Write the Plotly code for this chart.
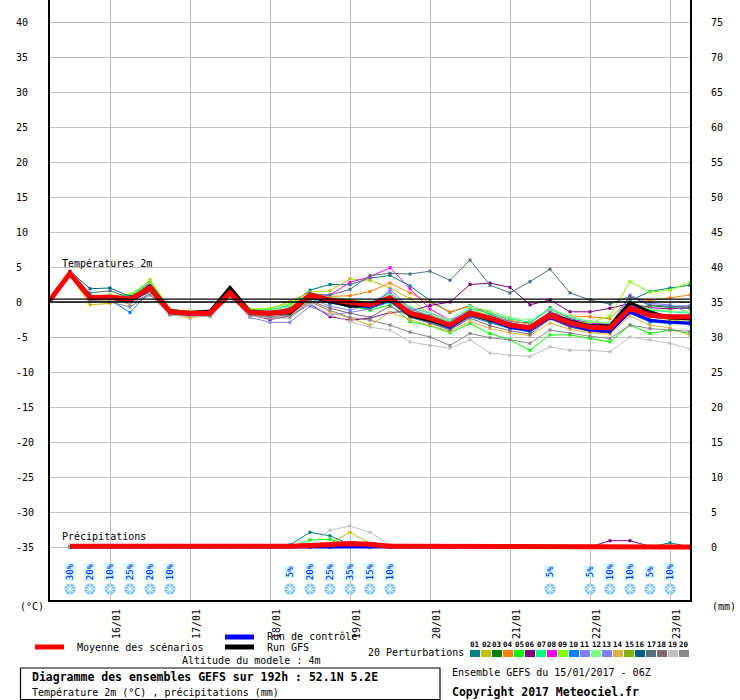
import plotly.graph_objects as go
import pandas as pd

# ---------------- DATA ----------------
TIMES = pd.date_range('2017-01-15 06:00', periods=33, freq='6h')

MEAN_T = [0.3, 4.1, 0.6, 0.7, 0.4, 2.0, -1.4, -1.6, -1.6, 1.3, -1.5, -1.6, -1.3, 1.0, 0.3, 0.0, -0.4,
          0.6, -1.6, -2.3, -3.3, -1.6, -2.3, -3.3, -3.7, -1.9, -3.0, -3.6, -3.7, -0.9, -1.9, -2.1, -2.1]
GFS_T = [0.2, 4.0, 0.8, 0.5, 0.3, 2.3, -1.2, -1.5, -1.3, 2.1, -1.3, -1.5, -1.6, 0.8, 0.1, -0.6, -0.5,
         0.4, -1.9, -2.6, -3.4, -1.7, -2.5, -3.4, -3.8, -1.7, -2.7, -3.4, -3.4, -0.1, -1.4, -2.3, -2.4]
CTRL_T = [0.2, 4.0, 0.5, 0.8, 0.2, 1.8, -1.5, -1.7, -1.7, 1.1, -1.6, -1.7, -1.4, 0.8, 0.0, -0.3, -0.6,
          0.3, -1.8, -2.5, -3.6, -1.8, -2.5, -3.6, -4.0, -2.2, -3.3, -4.0, -4.2, -1.4, -2.6, -2.9, -3.0]

P01 = [0.5, 4.3, 1.0, 0.6, 0.7, 2.6, -1.3, -1.5, -1.6, 1.2, -1.5, -1.3, -0.4, 1.7, 2.5, 2.5, 3.4,
       3.8, 2.3, 0.2, -1.5, -0.5, -1.8, -2.8, -3.0, -0.8, -2.4, -3.0, -3.2, 0.2, 1.5, 2.0, 2.4]
P02 = [0.1, 3.9, -0.4, -0.2, 0.5, 3.2, -1.0, -1.8, -1.4, 1.6, -1.1, -1.0, 0.1, 1.4, 1.6, 3.3, 3.1,
       2.0, 0.5, -1.8, -3.0, -1.0, -2.0, -3.2, -3.5, -1.5, -2.8, -3.3, -3.1, -0.5, -1.6, -2.5, -3.0]
P03 = [0.3, 4.0, 0.4, 0.6, 0.2, 1.8, -1.6, -1.9, -1.8, 1.4, -1.8, -1.7, -1.2, 0.6, -0.2, -0.5, -1.0,
       0.2, -2.0, -2.8, -3.8, -2.0, -2.8, -3.6, -4.2, -2.3, -3.4, -4.0, -4.2, -1.0, -0.5, -0.8, -0.9]
P04 = [0.2, 4.1, 0.5, 0.8, 0.6, 2.2, -1.5, -2.2, -1.6, 1.0, -1.4, -1.6, -0.8, 1.2, 0.8, 0.9, 1.5,
       2.7, 1.3, 0.0, -1.4, -0.6, -1.5, -2.6, -3.2, -1.5, -2.0, -2.1, -2.4, 0.6, 0.2, 0.6, 1.0]
P05 = [0.2, 4.0, 0.3, 0.4, 0.1, 1.6, -1.8, -1.7, -1.9, 1.0, -1.9, -1.4, -1.0, 0.9, 0.2, -0.6, -1.2,
       -0.4, -2.8, -3.4, -4.4, -3.1, -4.5, -5.4, -6.9, -4.7, -4.7, -5.2, -5.7, -3.3, -4.5, -4.0, -4.5]
P06 = [0.4, 4.2, 0.8, 0.2, 0.0, 1.5, -1.8, -1.6, -1.9, 0.6, -1.8, -2.5, -2.0, -0.3, -2.1, -2.6, -2.3,
       -1.5, -1.3, -0.5, 0.0, 2.5, 2.7, 2.1, -0.4, 0.3, -1.4, -1.4, -0.9, -0.2, -0.8, -1.0, -0.8]
P07 = [0.3, 4.1, 0.7, 0.9, 0.9, 2.8, -1.2, -1.4, -1.4, 1.8, -1.2, -1.1, -0.5, 1.3, 0.6, 0.3, 0.0,
       1.2, -1.0, -1.9, -2.8, -0.9, -1.6, -2.4, -2.9, -1.1, -2.2, -2.8, -3.0, 0.0, -1.2, -1.4, -1.6]
P08 = [0.4, 4.0, 0.6, 0.7, 0.5, 2.7, -1.4, -1.6, -1.5, 1.4, -1.4, -1.5, -0.9, 0.6, 1.0, 2.8, 3.6,
       4.9, 1.9, -1.0, -2.6, -1.5, -2.0, -3.0, -3.4, -1.4, -2.5, -3.0, -3.3, -0.4, -1.7, -2.2, -2.4]
P09 = [0.2, 3.9, 0.5, 0.9, 1.1, 3.0, -1.1, -1.3, -1.5, 1.7, -1.0, -0.9, -0.2, 1.1, 0.7, 0.2, -0.6,
       0.3, -1.3, -2.0, -3.0, -1.2, -2.0, -3.1, -3.6, -1.7, -2.7, -3.0, -2.0, 2.9, 1.4, 1.7, 2.8]
P10 = [0.3, 4.0, 0.4, 0.3, -1.5, 1.5, -1.6, -1.8, -1.9, 0.9, -1.7, -1.8, -1.5, 0.7, -0.1, -0.7, -0.9,
       0.0, -2.2, -3.0, -3.9, -2.1, -3.0, -3.8, -4.3, -2.3, -3.5, -4.1, -4.4, -1.6, -2.9, -3.1, -3.2]
P11 = [0.2, 3.9, 0.3, 0.4, 0.3, 1.7, -1.7, -2.0, -2.0, 0.8, -2.2, -2.9, -2.9, -0.6, -1.8, -1.5, -1.0,
       1.8, -0.8, -1.6, -2.6, -1.2, -2.1, -3.0, -3.6, -1.6, -2.8, -3.2, -3.3, 1.0, -0.2, -0.4, -1.6]
P12 = [0.4, 4.2, 0.9, 1.0, 0.8, 2.5, -1.2, -1.3, -1.3, 1.5, -1.2, -1.2, -0.6, 1.2, 0.7, 0.4, -0.1,
       1.0, -0.7, -1.5, -2.5, -0.6, -1.3, -2.2, -2.6, -1.0, -2.0, -2.8, -3.0, -0.1, -1.0, -1.3, -1.4]
P13 = [0.3, 4.1, 0.6, 0.8, 0.3, 1.9, -1.4, -1.7, -1.6, 1.2, -1.6, -1.9, -1.6, 0.5, -0.6, -1.2, -0.3,
       1.4, -1.0, -2.0, -3.1, -1.4, -2.3, -3.3, -3.9, -1.8, -3.1, -3.5, -3.7, 0.8, -0.4, -0.6, -0.5]
P14 = [0.1, 3.9, 0.2, 0.3, 0.2, 1.7, -1.7, -2.3, -1.8, 1.1, -1.7, -2.0, -1.9, 0.3, -1.5, -2.3, -3.3,
       -1.5, -2.5, -3.3, -4.2, -2.8, -3.8, -4.4, -4.8, -3.0, -3.9, -4.4, -4.6, -2.0, -3.3, -3.7, -4.8]
P15 = [0.2, 4.0, 0.7, 0.6, 0.4, 2.1, -1.5, -1.6, -1.7, 1.3, -1.5, -1.6, -1.2, 1.0, 0.3, -0.2, -0.7,
       0.5, -1.8, -2.6, -3.5, -1.9, -2.6, -3.6, -4.0, -2.1, -3.2, -3.8, -3.9, -1.2, -2.2, -2.5, -2.6]
P16 = [0.5, 4.4, 1.9, 2.0, 0.8, 1.8, -1.3, -1.7, -1.6, 1.0, -1.6, -1.7, -1.4, 0.8, 0.0, -0.4, -0.8,
       0.4, -2.0, -2.7, -3.7, -1.8, -2.8, -3.7, -4.1, -2.0, -3.3, -3.9, -4.0, -0.6, -1.8, -2.0, -2.2]
P17 = [0.4, 4.2, 1.3, 1.6, 0.6, 1.4, -1.2, -1.5, -1.4, 1.5, -1.5, -1.4, -0.9, 1.2, 1.0, 1.8, 3.8,
       4.1, 4.0, 4.4, 3.1, 6.0, 2.4, 1.3, 2.9, 4.7, 1.3, 0.3, -0.3, 0.8, -0.5, -0.6, -0.7]
P18 = [0.3, 4.0, 0.2, 0.5, -0.3, 1.2, -1.6, -1.8, -1.9, 0.7, -1.9, -2.1, -1.8, 0.2, -0.9, -1.6, -2.2,
       -0.6, -2.1, -3.0, -4.0, -2.3, -3.4, -4.1, -4.6, -2.4, -3.6, -4.2, -4.4, -1.5, -2.6, -2.8, -3.0]
P19 = [0.2, 3.9, 0.1, 0.2, -0.2, 1.3, -1.9, -2.0, -2.1, 0.6, -2.0, -2.3, -2.3, -0.2, -1.8, -2.8, -3.6,
       -4.0, -5.7, -6.2, -6.6, -5.4, -7.3, -7.6, -7.8, -6.4, -6.9, -6.9, -7.1, -5.0, -5.4, -5.9, -6.7]
P20 = [0.3, 4.0, 0.3, 0.0, -0.7, 1.0, -1.8, -1.9, -2.0, 0.9, -1.9, -2.2, -2.1, 0.0, -1.2, -2.2, -2.6,
       -3.3, -4.3, -5.0, -6.2, -4.5, -5.1, -5.4, -5.9, -4.0, -4.5, -4.9, -5.2, -3.3, -3.8, -4.0, -4.2]
MEMBERS_T = [P01, P02, P03, P04, P05, P06, P07, P08, P09, P10,
             P11, P12, P13, P14, P15, P16, P17, P18, P19, P20]

COLORS = ['#008080', '#c0c000', '#008000', '#ff8000', '#00ff00', '#800080', '#00ff80', '#ff00ff',
          '#80ff00', '#0080ff', '#8080ff', '#80ff80', '#8080ff', '#e0b040', '#80b000', '#006080',
          '#507080', '#806870', '#c0c0c0', '#888888']
MEMBER_LABELS = ['01', '02', '03', '04', '05', '06', '07', '08', '09', '10',
                 '11', '12', '13', '14', '15', '16', '17', '18', '19', '20']

# precipitation (mm per 6h), first step has no value
N = None
MEAN_P = [N, 0.1, 0.1, 0.1, 0.1, 0.1, 0.1, 0, 0, 0, 0, 0, 0.1, 0.2, 0.4, 0.5, 0.4,
          0.1, 0.1, 0.1, 0.1, 0, 0.1, 0.1, 0.1, 0.1, 0.1, 0.1, 0.1, 0.1, 0.1, 0.1, 0]
CTRL_P = [N, 0, 0, 0, 0, 0, 0, 0, 0, 0, 0, 0, 0, 0, 0, 0, 0,
          0, 0, 0, 0, 0, 0, 0, 0, 0, 0, 0, 0, 0, 0, 0, 0]
PR01 = [N, 0, 0, 0, 0, 0, 0, 0, 0, 0, 0, 0, 0.3, 2.1, 1.6, 0.4, 0, 0, 0, 0, 0, 0, 0, 0, 0, 0, 0, 0, 0, 0, 0, 0.6, 0]
PR02 = [N, 0, 0, 0, 0, 0, 0, 0, 0, 0, 0, 0, 0, 0, 0.5, 2.1, 0.5, 0, 0, 0, 0, 0, 0, 0, 0, 0, 0, 0, 0, 0, 0, 0, 0]
PR03 = [N, 0, 0, 0, 0, 0, 0, 0, 0, 0, 0, 0, 0, 0, 0.2, 0.2, 0, 0, 0, 0, 0, 0, 0, 0, 0, 0, 0, 0, 0, 0, 0, 0, 0]
PR04 = [N, 0, 0, 0, 0, 0, 0, 0, 0, 0, 0, 0, 0, 0, 0, 0.1, 0, 0, 0, 0, 0, 0, 0, 0, 0, 0, 0, 0, 0, 0, 0, 0, 0]
PR05 = [N, 0, 0, 0, 0, 0, 0, 0, 0, 0, 0, 0, 0, 1.0, 1.1, 0.3, 0, 0, 0, 0, 0, 0, 0, 0, 0, 0, 0, 0, 0, 0, 0, 0, 0]
PR06 = [N, 0, 0, 0, 0, 0, 0, 0, 0, 0, 0, 0, 0, 0, 0, 0.2, 0.4, 0, 0, 0, 0, 0, 0.2, 0, 0, 0, 0, 0, 0.9, 0.9, 0.1, 0, 0]
PR07 = [N, 0, 0, 0, 0, 0, 0, 0, 0, 0, 0, 0, 0, 0, 0.3, 0.2, 0, 0, 0, 0, 0, 0, 0, 0, 0, 0, 0, 0, 0, 0, 0, 0, 0]
PR08 = [N, 0, 0, 0, 0, 0, 0, 0, 0, 0, 0, 0, 0, 0, 0, 0.5, 0.4, 0, 0, 0, 0, 0, 0, 0, 0, 0, 0, 0, 0, 0, 0, 0, 0]
PR09 = [N, 0, 0, 0, 0, 0, 0, 0, 0, 0, 0, 0, 0, 0, 0, 0, 0, 0, 0, 0, 0, 0, 0, 0, 0, 0, 0, 0, 0, 0, 0, 0, 0]
PR10 = [N, 0, 0, 0, 0, 0, 0, 0, 0, 0, 0, 0, 0, 0, 0, 0.2, 0.3, 0, 0, 0, 0, 0, 0, 0, 0, 0, 0, 0, 0, 0, 0, 0, 0]
PR11 = [N, 0, 0, 0, 0, 0, 0, 0, 0, 0, 0, 0, 0, 0, 0, 0.3, 0.2, 0, 0, 0, 0, 0, 0, 0, 0, 0, 0, 0, 0, 0, 0, 0, 0]
PR12 = [N, 0, 0, 0, 0, 0, 0, 0, 0, 0, 0, 0, 0, 0, 0.2, 0, 0, 0, 0, 0, 0, 0, 0, 0, 0, 0, 0, 0, 0, 0, 0, 0, 0]
PR13 = [N, 0, 0, 0, 0, 0, 0, 0, 0, 0, 0, 0, 0, 0, 0, 0.3, 0.1, 0, 0, 0, 0, 0, 0, 0, 0, 0, 0, 0, 0, 0, 0, 0, 0]
PR14 = [N, 0, 0, 0, 0, 0, 0, 0, 0, 0, 0, 0, 0, 0, 0, 0.1, 0, 0, 0, 0, 0, 0, 0, 0, 0, 0, 0, 0, 0, 0, 0, 0, 0]
PR15 = [N, 0, 0, 0, 0, 0, 0, 0, 0, 0, 0, 0, 0, 0, 0, 0.2, 0, 0, 0, 0, 0, 0, 0, 0, 0, 0, 0, 0, 0, 0, 0, 0, 0]
PR16 = [N, 0, 0, 0, 0, 0, 0, 0, 0, 0, 0, 0, 0, 0, 0, 0.4, 0.2, 0, 0, 0, 0, 0, 0, 0, 0, 0, 0, 0, 0, 0, 0, 0, 0]
PR17 = [N, 0, 0, 0, 0, 0, 0, 0, 0, 0, 0, 0, 0, 0, 0.3, 0.3, 0, 0, 0, 0, 0, 0, 0, 0, 0, 0, 0, 0, 0, 0, 0, 0, 0]
PR18 = [N, 0, 0, 0, 0, 0, 0, 0, 0, 0, 0, 0, 0, 0, 0, 0.2, 0, 0, 0, 0, 0, 0, 0, 0, 0, 0, 0, 0, 0, 0, 0, 0, 0]
PR19 = [N, 0, 0, 0, 0, 0, 0, 0, 0, 0, 0, 0, 0, 0.3, 2.4, 3.0, 2.1, 0.3, 0, 0, 0, 0, 0, 0, 0, 0, 0, 0, 0, 0, 0, 0, 0]
PR20 = [N, 0, 0, 0, 0, 0, 0, 0, 0, 0, 0, 0, 0, 0, 0.4, 0.6, 0.4, 0, 0, 0, 0, 0, 0, 0, 0, 0, 0, 0, 0, 0, 0, 0, 0]
MEMBERS_P = [PR01, PR02, PR03, PR04, PR05, PR06, PR07, PR08, PR09, PR10,
             PR11, PR12, PR13, PR14, PR15, PR16, PR17, PR18, PR19, PR20]

SNOW_TIMES = ['2017-01-15 12:00', '2017-01-15 18:00', '2017-01-16 00:00', '2017-01-16 06:00',
              '2017-01-16 12:00', '2017-01-16 18:00', '2017-01-18 06:00', '2017-01-18 12:00',
              '2017-01-18 18:00', '2017-01-19 00:00', '2017-01-19 06:00', '2017-01-19 12:00',
              '2017-01-21 12:00', '2017-01-22 00:00', '2017-01-22 06:00', '2017-01-22 12:00',
              '2017-01-22 18:00', '2017-01-23 00:00']
SNOW_PCT = [30, 20, 10, 25, 20, 10, 5, 20, 25, 35, 15, 10, 5, 5, 10, 10, 5, 10]

T_TICKS = list(range(-35, 45, 5))
R_TICKS = list(range(0, 80, 5))

# ---------------- LAYOUT HELPERS ----------------
W, H = 740, 700
ML, MR, MT, MB = 50, 50, 0, 100
PW, PH = W - ML - MR, H - MT - MB
PXU = 7.0  # pixels per degree
Y0PX = 302  # pixel row of 0 degC
Y_RANGE = [-(PH - Y0PX) / PXU, Y0PX / PXU]
PRECIP_OFFSET = 35
Y2_RANGE = [Y_RANGE[0] + PRECIP_OFFSET, Y_RANGE[1] + PRECIP_OFFSET]


def px(x):
    return (x - ML) / PW


def py(y):
    return (MT + PH - y) / PH


MONO = 'DejaVu Sans Mono'

fig = go.Figure()

# members temperature
for k in range(20):
    fig.add_trace(go.Scatter(x=TIMES, y=MEMBERS_T[k], mode='lines+markers',
                             line=dict(color=COLORS[k], width=1),
                             marker=dict(size=3, symbol='square', color=COLORS[k]),
                             showlegend=False, hoverinfo='skip'))
# members precipitation
for k in range(20):
    fig.add_trace(go.Scatter(x=TIMES, y=MEMBERS_P[k], mode='lines+markers', yaxis='y2',
                             line=dict(color=COLORS[k], width=1),
                             marker=dict(size=3, symbol='square', color=COLORS[k]),
                             showlegend=False, hoverinfo='skip'))

fig.add_trace(go.Scatter(x=TIMES, y=CTRL_T, mode='lines', line=dict(color='#0000ff', width=3),
                         showlegend=False, hoverinfo='skip'))
fig.add_trace(go.Scatter(x=TIMES, y=GFS_T, mode='lines', line=dict(color='#000000', width=3),
                         showlegend=False, hoverinfo='skip'))
fig.add_trace(go.Scatter(x=TIMES, y=MEAN_T, mode='lines', line=dict(color='#ff0000', width=5),
                         showlegend=False, hoverinfo='skip'))
fig.add_trace(go.Scatter(x=TIMES, y=CTRL_P, mode='lines', yaxis='y2',
                         line=dict(color='#0000ff', width=3), showlegend=False, hoverinfo='skip'))
fig.add_trace(go.Scatter(x=TIMES, y=MEAN_P, mode='lines', yaxis='y2',
                         line=dict(color='#ff0000', width=5), showlegend=False, hoverinfo='skip'))

# snow icons
ICON_Y = -41.0
TXT_Y = -38.6
fig.add_trace(go.Scatter(x=SNOW_TIMES, y=[ICON_Y] * len(SNOW_TIMES), mode='markers',
                         marker=dict(size=11, color='#78c4f0', line=dict(width=0)),
                         showlegend=False, hoverinfo='skip'))
fig.add_trace(go.Scatter(x=SNOW_TIMES, y=[ICON_Y] * len(SNOW_TIMES), mode='markers',
                         marker=dict(size=8, symbol='asterisk-open', color='white',
                                     line=dict(width=1, color='#e8f6ff')),
                         showlegend=False, hoverinfo='skip'))

annotations = []
for t, p in zip(SNOW_TIMES, SNOW_PCT):
    annotations.append(dict(x=t, y=TXT_Y, xref='x', yref='y', text=f'{p}%', textangle=-90,
                            xanchor='center', yanchor='middle',
                            showarrow=False, font=dict(family=MONO, size=9, color='#0000ff'),
                            bgcolor='#ccffff', borderpad=0))


def txt(x, y, s, size=10, bold=False, anchor='left'):
    if bold:
        s = f'<b>{s}</b>'
    annotations.append(dict(x=px(x), y=py(y), xref='paper', yref='paper', text=s,
                            showarrow=False, xanchor=anchor, yanchor='middle',
                            font=dict(family=MONO, size=size, color='black')))


txt(60, 263, 'Températures 2m')
txt(60, 536, 'Précipitations')
txt(18, 606, '(°C)')
txt(710, 606, '(mm)')
txt(75, 647, 'Moyenne des scénarios')
txt(265, 636, 'Run de contrôle')
txt(265, 647, 'Run GFS')
txt(180, 660, 'Altitude du modele : 4m')
txt(366, 652, '20 Perturbations')
txt(30, 677, 'Diagramme des ensembles GEFS sur 192h : 52.1N 5.2E', size=11.5, bold=True)
txt(30, 692, 'Température 2m (°C) , précipitations (mm)')
txt(450, 672, 'Ensemble GEFS du 15/01/2017 - 06Z')
txt(450, 692, 'Copyright 2017 Meteociel.fr', size=11.5, bold=True)

shapes = []
# freezing line (double)
for yv in (0.0, 0.4):
    shapes.append(dict(type='line', xref='paper', yref='y', x0=0, x1=1, y0=yv, y1=yv,
                       line=dict(color='black', width=1.3)))
# legend lines
shapes.append(dict(type='line', xref='paper', yref='paper', x0=px(35), x1=px(64), y0=py(647), y1=py(647),
                   line=dict(color='#ff0000', width=5)))
shapes.append(dict(type='line', xref='paper', yref='paper', x0=px(225), x1=px(254), y0=py(637), y1=py(637),
                   line=dict(color='#0000ff', width=5)))
shapes.append(dict(type='line', xref='paper', yref='paper', x0=px(225), x1=px(254), y0=py(647), y1=py(647),
                   line=dict(color='#000000', width=5)))
# perturbation colour boxes
for k in range(20):
    x0 = 470 + 11 * k
    shapes.append(dict(type='rect', xref='paper', yref='paper', x0=px(x0), x1=px(x0 + 10),
                       y0=py(657), y1=py(650), fillcolor=COLORS[k], line=dict(width=0)))
    annotations.append(dict(x=px(x0 + 5), y=py(644), xref='paper', yref='paper',
                            text=f'<b>{MEMBER_LABELS[k]}</b>', showarrow=False, borderpad=0,
                            xanchor='center', yanchor='middle',
                            font=dict(family=MONO, size=7.5, color='black')))
# title box
shapes.append(dict(type='rect', xref='paper', yref='paper', x0=px(20.5), x1=px(440), y0=py(668), y1=py(699.5),
                   line=dict(color='black', width=1.2), fillcolor='rgba(0,0,0,0)'))

fig.update_layout(
    width=W, height=H, margin=dict(l=ML, r=MR, t=MT, b=MB),
    paper_bgcolor='white', plot_bgcolor='white',
    showlegend=False,
    xaxis=dict(type='date', range=[TIMES[0], TIMES[-1]], showgrid=True, gridcolor='#c0c0c0',
               gridwidth=1, tick0='2017-01-16', dtick=86400000, tickformat='%d/%m', tickangle=-90,
               ticklabelshift=7, ticklabelstandoff=3, ticks='', showline=True, linecolor='black',
               linewidth=2, zeroline=False, tickfont=dict(family=MONO, size=10, color='black')),
    yaxis=dict(range=Y_RANGE, tickvals=T_TICKS,
               ticktext=[str(v).ljust(3, '\u00a0') for v in T_TICKS],
               showgrid=True, gridcolor='#c0c0c0', gridwidth=1, zeroline=False, ticks='',
               ticklabelstandoff=12, showline=True, linecolor='black', linewidth=2,
               tickfont=dict(family=MONO, size=10, color='black')),
    yaxis2=dict(range=Y2_RANGE, overlaying='y', side='right', tickvals=R_TICKS,
                showgrid=False, zeroline=False, ticks='', ticklabelstandoff=17, showline=True,
                linecolor='black', linewidth=2, tickfont=dict(family=MONO, size=10, color='black')),
    annotations=annotations, shapes=shapes,
)

fig.write_html('out.html', config={'displayModeBar': False},
               post_script="document.body.style.margin='0';document.body.style.overflow='hidden';")
